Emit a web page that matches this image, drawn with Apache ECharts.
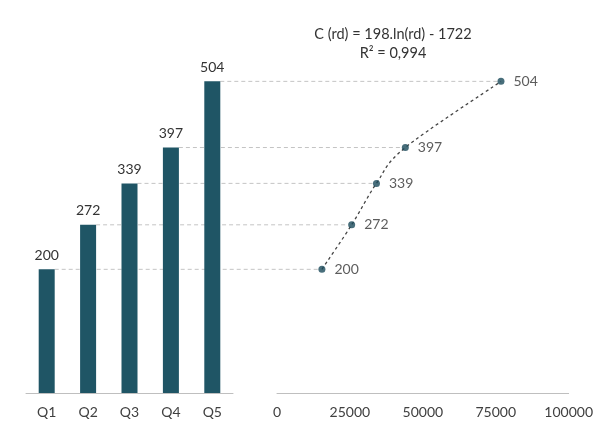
<!DOCTYPE html>
<html>
<head>
<meta charset="utf-8">
<script src="https://cdn.jsdelivr.net/npm/echarts@6/dist/echarts.min.js"></script>
<style>
  html, body { margin: 0; padding: 0; background: #fff; }
  #main { width: 596px; height: 426px; }
</style>
</head>
<body>
<div id="main"></div>
<script>
// data
var quintiles = ['Q1', 'Q2', 'Q3', 'Q4', 'Q5'];
var consumo = [200, 272, 339, 397, 504];
var renda = [15400, 25600, 34100, 44000, 76800];
var eqText = 'C (rd) = 198.ln(rd) - 1722';
var r2Text = 'R\u00b2 = 0,994';

var fontFam = 'Lato, "Open Sans", sans-serif';
var barColor = '#1f5565';

var pts = [];
for (var i = 0; i < renda.length; i++) pts.push([renda[i], consumo[i]]);

// dotted trend curve through the points (catmull-rom -> bezier, in pixel space)
function trendItem(params, api) {
  if (params.dataIndex !== 0) return;
  var p = pts.map(function (d) { return api.coord(d); });
  var n = p.length;
  var d = 'M' + p[0][0] + ' ' + p[0][1];
  for (var k = 0; k < n - 1; k++) {
    var p0 = p[Math.max(k - 1, 0)], p1 = p[k], p2 = p[k + 1], p3 = p[Math.min(k + 2, n - 1)];
    var c1 = [p1[0] + (p2[0] - p0[0]) / 6, p1[1] + (p2[1] - p0[1]) / 6];
    var c2 = [p2[0] - (p3[0] - p1[0]) / 6, p2[1] - (p3[1] - p1[1]) / 6];
    d += ' C' + c1[0] + ' ' + c1[1] + ' ' + c2[0] + ' ' + c2[1] + ' ' + p2[0] + ' ' + p2[1];
  }
  return {
    type: 'path',
    shape: { pathData: d },
    style: { fill: null, stroke: '#444', lineWidth: 1.3, lineDash: [3, 3] }
  };
}

var chart = echarts.init(document.getElementById('main'));

var option = {
  animation: false,
  textStyle: { fontFamily: fontFam },
  title: {
    text: eqText + '\n' + r2Text,
    left: 388,
    top: 20,
    textAlign: 'center',
    textStyle: { fontSize: 14.5, fontWeight: 'normal', color: '#333', lineHeight: 19, fontFamily: fontFam }
  },
  grid: [
    { left: 26, width: 207, top: 22, bottom: 33 },
    { left: 277, width: 293, top: 22, bottom: 33 }
  ],
  xAxis: [
    {
      gridIndex: 0, type: 'category', data: quintiles,
      axisLine: { lineStyle: { color: '#bfbfbf' } },
      axisTick: { show: false },
      axisLabel: { color: '#404040', fontSize: 14, margin: 12 }
    },
    {
      gridIndex: 1, type: 'value', min: 0, max: 100000, interval: 25000,
      axisLine: { show: true, lineStyle: { color: '#bfbfbf' } },
      axisTick: { show: false },
      splitLine: { show: false },
      axisLabel: { color: '#404040', fontSize: 14, margin: 12, formatter: function (v) { return String(v); } }
    }
  ],
  yAxis: [
    { gridIndex: 0, type: 'value', min: 0, max: 600, show: false },
    { gridIndex: 1, type: 'value', min: 0, max: 600, show: false }
  ],
  series: [
    {
      type: 'bar', xAxisIndex: 0, yAxisIndex: 0,
      data: consumo, barWidth: 16,
      itemStyle: { color: barColor },
      label: { show: true, position: 'top', distance: 7, color: '#333', fontSize: 14 }
    },
    {
      type: 'scatter', xAxisIndex: 1, yAxisIndex: 1,
      data: pts, symbolSize: 7,
      itemStyle: { color: '#1a4a5a' },
      label: {
        show: true, position: 'right', distance: 9, color: '#333', fontSize: 14,
        formatter: function (p) { return p.value[1]; }
      },
      z: 3
    },
    {
      type: 'custom', xAxisIndex: 1, yAxisIndex: 1,
      data: pts, renderItem: trendItem, silent: true,
      z: 2
    }
  ]
};
chart.setOption(option);

// horizontal guide lines from each bar top to its point
var guides = [];
for (var j = 0; j < consumo.length; j++) {
  var a = chart.convertToPixel({ seriesIndex: 0 }, [j, consumo[j]]);
  var b = chart.convertToPixel({ seriesIndex: 1 }, [renda[j], consumo[j]]);
  guides.push({
    type: 'line',
    shape: { x1: a[0] + 8, y1: b[1], x2: b[0] - 4, y2: b[1] },
    style: { stroke: '#c4c4c4', lineWidth: 1, lineDash: [4, 3] },
    z: 1
  });
}
chart.setOption({ graphic: guides });
</script>
</body>
</html>
